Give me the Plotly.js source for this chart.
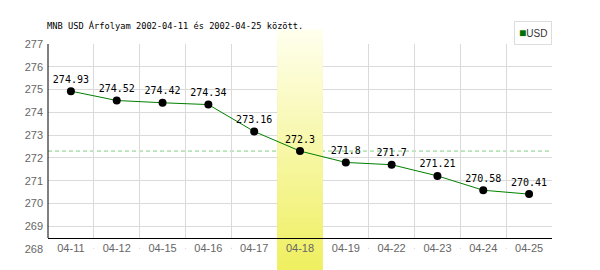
<!DOCTYPE html>
<html>
<head>
<meta charset="utf-8">
<script src="https://cdn.plot.ly/plotly-3.0.1.min.js"></script>
<style>html,body{margin:0;padding:0;background:#fff;}#chart{width:600px;height:270px;}</style>
</head>
<body>
<div id="chart"></div>
<script>
// ---- data ----
var dates = ['04-11','04-12','04-15','04-16','04-17','04-18','04-19','04-22','04-23','04-24','04-25'];
var rates = [274.93, 274.52, 274.42, 274.34, 273.16, 272.3, 271.8, 271.7, 271.21, 270.58, 270.41];
var seriesName = 'USD';
var highlightDate = '04-18';
var titleText = 'MNB USD Árfolyam 2002-04-11 és 2002-04-25 között.';
var yTicks = [268, 269, 270, 271, 272, 273, 274, 275, 276, 277];

// ---- layout geometry ----
var W = 600, H = 270;
var mL = 48, mR = 48, mT = 44, mB = 21;
var plotTop = mT, plotBottom = H - mB, plotH = plotBottom - plotTop;
var yMin = yTicks[0], yMax = yTicks[yTicks.length - 1];
var xAxisPx = 238; // pixel row of the black x axis line
var xAxisPos = (plotBottom - xAxisPx) / plotH;
function pxToY(px) { return yMax - (px - plotTop) * (yMax - yMin) / plotH; }
function pxToPaper(px) { return (plotBottom - px) / plotH; }

var hi = dates.indexOf(highlightDate);
var shapes = [];

// reference line at the highlighted day's value
shapes.push({type: 'line', xref: 'paper', x0: 0, x1: 1, yref: 'y', y0: rates[hi], y1: rates[hi],
  line: {color: '#80cc80', width: 1, dash: '4px,3px'}, layer: 'below'});

// white cover for grid below the x axis line
shapes.push({type: 'rect', xref: 'x', x0: -0.5, x1: dates.length - 0.5, yref: 'y',
  y0: pxToY(plotBottom - 1.2), y1: pxToY(xAxisPx + 0.6), fillcolor: '#ffffff', line: {width: 0}, layer: 'between'});

// highlight band with vertical gradient
var bandTop = 30, bandBot = 270;
var cTop = [255, 255, 238], cBot = [239, 239, 96];
var bounds = [];
for (var p = bandTop; p <= bandBot; p += 4) bounds.push(p);
bounds.push(plotTop, plotBottom);
bounds = bounds.filter(function (v, i, a) { return a.indexOf(v) === i; }).sort(function (a, b) { return a - b; });
for (var i = 0; i < bounds.length - 1; i++) {
  var a = bounds[i], b = bounds[i + 1], mid = (a + b) / 2;
  var t = (mid - bandTop) / (bandBot - bandTop);
  var col = 'rgb(' + cTop.map(function (c, k) { return Math.round(c + (cBot[k] - c) * t); }).join(',') + ')';
  var inside = a >= plotTop && b <= plotBottom;
  var s = {type: 'rect', xref: 'x', x0: hi - 0.5, x1: hi + 0.5, fillcolor: col, line: {width: 0}};
  if (inside) {
    s.yref = 'y'; s.y0 = pxToY(b + 0.5); s.y1 = pxToY(a - 0.5); s.layer = 'between';
  } else {
    s.yref = 'paper'; s.y0 = pxToPaper(b + 0.5); s.y1 = pxToPaper(a - 0.5); s.layer = 'below';
  }
  shapes.push(s);
}

// left axis line (stops at the x axis)
shapes.push({type: 'line', xref: 'paper', x0: 0, x1: 0, yref: 'paper', y0: xAxisPos, y1: 1,
  line: {color: '#000', width: 1}, layer: 'above'});

var trace = {
  type: 'scatter', mode: 'lines+markers+text', name: seriesName,
  x: dates, y: rates,
  text: rates.map(function (v) { return String(v); }),
  textposition: 'top center',
  textfont: {family: 'DejaVu Sans Mono', size: 10, color: '#000'},
  line: {color: '#008000', width: 1},
  marker: {color: '#000', size: 8},
  cliponaxis: false, showlegend: false, hoverinfo: 'skip'
};

var layout = {
  width: W, height: H,
  margin: {l: mL, r: mR, t: mT, b: mB, pad: 0},
  paper_bgcolor: '#fff', plot_bgcolor: 'rgba(0,0,0,0)',
  showlegend: false,
  title: {text: titleText, xref: 'container', x: 47 / W, xanchor: 'left',
    yref: 'container', y: 1 - 26 / H, yanchor: 'middle',
    font: {family: 'DejaVu Sans Mono', size: 8.7, color: '#000'}},
  xaxis: {type: 'category', categoryorder: 'array', categoryarray: dates,
    range: [-0.5, dates.length - 0.5], anchor: 'free', position: xAxisPos,
    showline: true, linecolor: '#000', linewidth: 1,
    showgrid: true, gridcolor: '#dadada', gridwidth: 1, tickson: 'boundaries',
    ticks: '', zeroline: false, fixedrange: true,
    tickfont: {family: 'Liberation Sans', size: 11, color: '#666'}},
  yaxis: {range: [yMin, yMax], tickmode: 'array', tickvals: yTicks, ticktext: yTicks.map(String),
    showgrid: true, gridcolor: '#dadada', gridwidth: 1, zeroline: false, showline: false,
    ticks: '', ticklabelstandoff: 4, fixedrange: true,
    tickfont: {family: 'Liberation Sans', size: 11, color: '#666'}},
  shapes: shapes,
  annotations: [{
    xref: 'paper', x: 1, xanchor: 'right', yref: 'paper', y: pxToPaper(21), yanchor: 'top',
    text: '<span style="color:#007000;font-size:12px">■</span>' + seriesName, showarrow: false,
    font: {family: 'Liberation Sans', size: 10, color: '#333'},
    bordercolor: '#dddddd', borderwidth: 1, borderpad: 4, bgcolor: '#fff', align: 'left'
  }]
};

Plotly.newPlot('chart', [trace], layout, {displayModeBar: false, staticPlot: true});
</script>
</body>
</html>
